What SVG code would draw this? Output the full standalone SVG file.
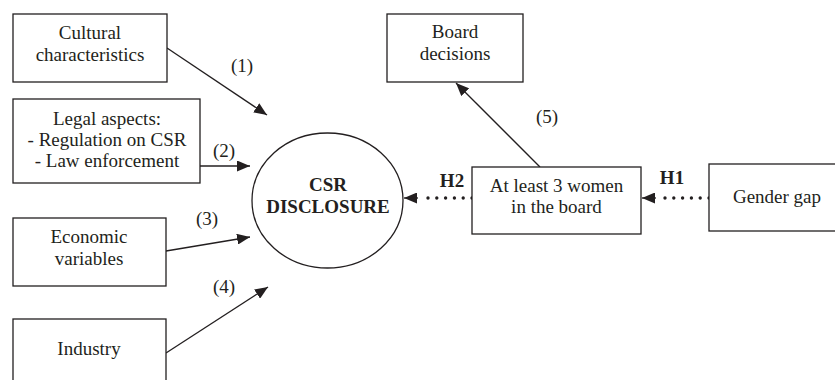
<svg xmlns="http://www.w3.org/2000/svg" width="835" height="380" viewBox="0 0 835 380">
<defs>
<style>
.box{fill:#fff;stroke:#231f20;stroke-width:1.3}
.t{font-family:"Liberation Serif","Times New Roman",serif;font-size:19px;fill:#231f20;text-anchor:middle}
.b{font-weight:bold}
.ln{stroke:#231f20;stroke-width:1.3;fill:none}
.dot{stroke:#231f20;stroke-width:3.4;stroke-linecap:round;stroke-dasharray:0 8.8;fill:none}
</style>
<marker id="ah" markerUnits="userSpaceOnUse" markerWidth="13" markerHeight="11" refX="13" refY="5.5" orient="auto">
<path d="M0,0 L13,5.5 L0,11 z" fill="#231f20"/>
</marker>
</defs>
<rect width="835" height="380" fill="#fff"/>
<g id="connectors">
<line class="ln" x1="167" y1="48" x2="267" y2="115" marker-end="url(#ah)"/>
<line class="ln" x1="200" y1="166" x2="250" y2="166" marker-end="url(#ah)"/>
<line class="ln" x1="166" y1="251" x2="250" y2="237" marker-end="url(#ah)"/>
<line class="ln" x1="166" y1="353" x2="268" y2="287" marker-end="url(#ah)"/>
<line class="ln" x1="540" y1="167" x2="456" y2="83" marker-end="url(#ah)"/>
<line class="dot" x1="472" y1="198" x2="420" y2="198"/>
<line class="ln" x1="418" y1="198" x2="404" y2="198" marker-end="url(#ah)"/>
<line class="dot" x1="709" y1="198" x2="658" y2="198"/>
<line class="ln" x1="656" y1="198" x2="642" y2="198" marker-end="url(#ah)"/>
<text class="t" x="242" y="72">(1)</text>
<text class="t" x="224" y="157">(2)</text>
<text class="t" x="207" y="225">(3)</text>
<text class="t" x="224" y="293">(4)</text>
<text class="t" x="547" y="123">(5)</text>
<text class="t b" x="452" y="187">H2</text>
<text class="t b" x="672" y="184">H1</text>
</g>
<g id="cultural">
<rect class="box" x="13" y="14" width="154" height="68"/>
<text class="t" x="90" y="39">Cultural</text>
<text class="t" x="90" y="61">characteristics</text>
</g>
<g id="legal">
<rect class="box" x="13" y="99" width="187" height="84"/>
<text class="t" x="107" y="125">Legal aspects:</text>
<text class="t" x="107" y="146">- Regulation on CSR</text>
<text class="t" x="107" y="167">- Law enforcement</text>
</g>
<g id="economic">
<rect class="box" x="13" y="218" width="153" height="68"/>
<text class="t" x="89" y="243">Economic</text>
<text class="t" x="89" y="265">variables</text>
</g>
<g id="industry">
<rect class="box" x="13" y="319" width="153" height="80"/>
<text class="t" x="89" y="355">Industry</text>
</g>
<g id="csr">
<ellipse class="box" cx="327.5" cy="200.5" rx="75.5" ry="67.5"/>
<text class="t b" x="328" y="191">CSR</text>
<text class="t b" x="328" y="213">DISCLOSURE</text>
</g>
<g id="board">
<rect class="box" x="387" y="14" width="136" height="68"/>
<text class="t" x="455" y="38">Board</text>
<text class="t" x="455" y="60">decisions</text>
</g>
<g id="women">
<rect class="box" x="472" y="167" width="169" height="67"/>
<text class="t" x="556.5" y="192">At least 3 women</text>
<text class="t" x="556.5" y="213">in the board</text>
</g>
<g id="gender">
<rect class="box" x="709" y="164" width="140" height="67"/>
<text class="t" x="777" y="203">Gender gap</text>
</g>
</svg>
